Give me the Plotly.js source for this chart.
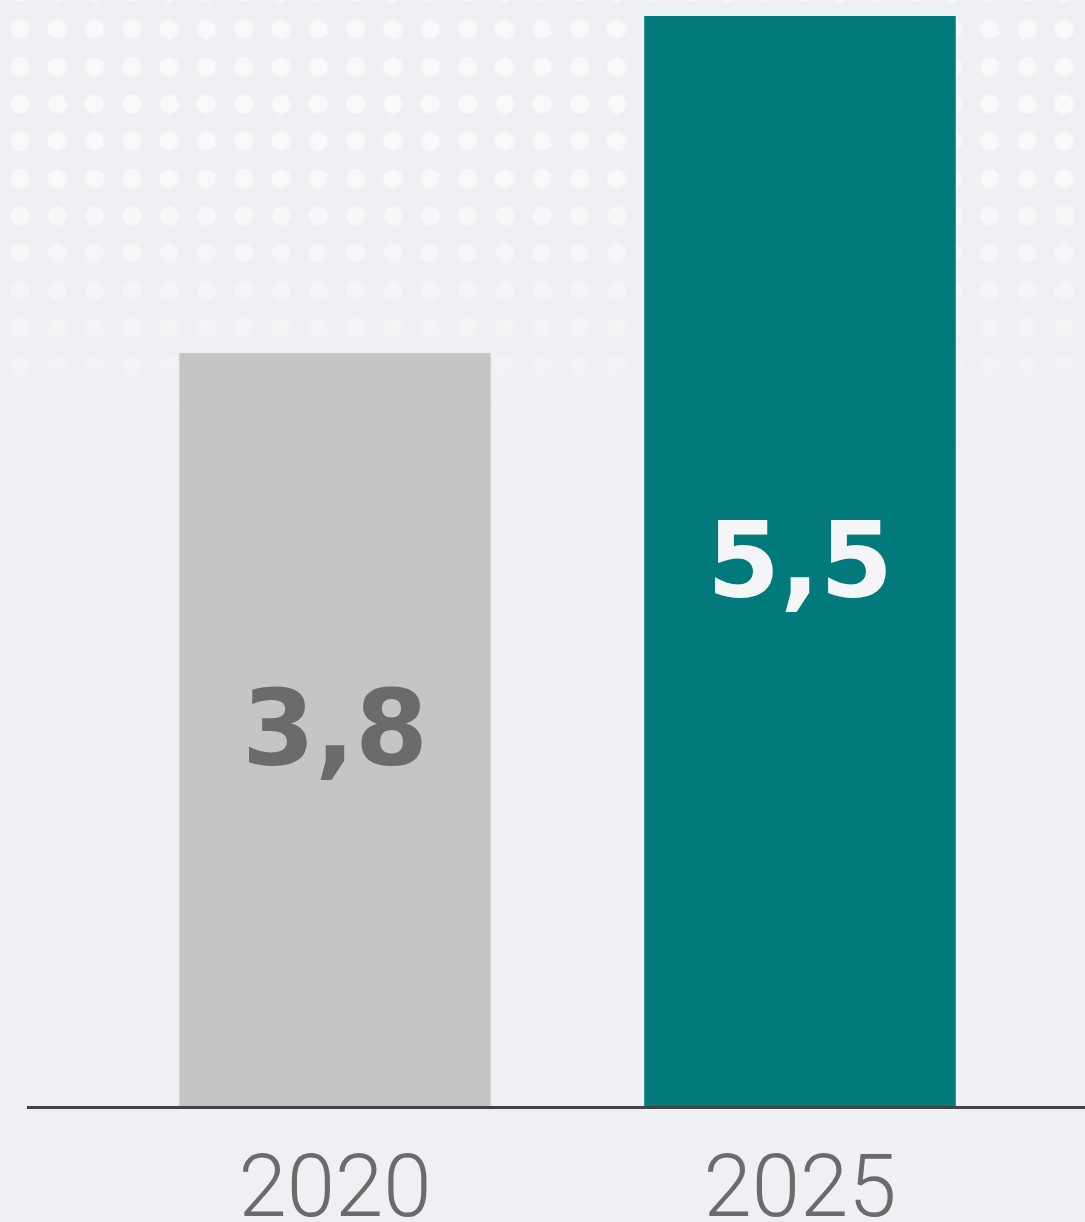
<!DOCTYPE html>
<html>
<head>
<meta charset="utf-8">
<script src="https://cdn.plot.ly/plotly-3.0.1.min.js"></script>
<style>
  html, body { margin: 0; padding: 0; background: #eff0f3; }
  #wrap {
    width: 1085px; height: 1222px; position: relative; overflow: hidden;
    background-color: #eff0f3;
    background-image:
      linear-gradient(to bottom, rgba(239,240,243,0) 0px, rgba(239,240,243,0) 170px, rgba(239,240,243,1) 445px),
      radial-gradient(circle at center, #f9f9fa 0px, #f9f9fa 8.5px, rgba(249,249,250,0) 10.5px);
    background-size: 100% 100%, 37.3px 37.3px;
    background-position: 0 0, 1.35px 10.85px;
    background-repeat: no-repeat, repeat;
  }
  #chart { width: 1085px; height: 1222px; }
</style>
</head>
<body>
<div id="wrap"><div id="chart"></div></div>
<script>
  // Data
  const years = ['2020', '2025'];
  const values = [3.8, 5.5];
  const valueLabels = ['3,8', '5,5'];
  const barColors = ['#c5c6c3', '#027a7b'];
  const labelColors = ['#6a6b6a', '#f4f5f7'];

  const trace = {
    type: 'bar',
    x: years,
    y: values,
    text: valueLabels,
    texttemplate: '%{text}',
    textposition: 'inside',
    insidetextanchor: 'middle',
    constraintext: 'none',
    textangle: 0,
    width: 0.67,
    marker: { color: barColors, line: { width: 0 } },
    insidetextfont: {
      family: 'DejaVu Sans, sans-serif',
      weight: 700,
      size: 105,
      color: labelColors
    },
    hoverinfo: 'skip'
  };

  const layout = {
    width: 1085,
    height: 1222,
    margin: { l: 27, r: 0, t: 16, b: 116, pad: 0 },
    paper_bgcolor: 'rgba(0,0,0,0)',
    plot_bgcolor: 'rgba(0,0,0,0)',
    showlegend: false,
    xaxis: {
      type: 'category',
      range: [-0.6624, 1.6129],
      showline: true,
      linecolor: '#414443',
      linewidth: 3,
      showgrid: false,
      zeroline: false,
      ticks: '',
      ticklabelstandoff: 3,
      tickfont: { family: 'Roboto, sans-serif', weight: 300, size: 87, color: '#6b6b6b' },
      fixedrange: true
    },
    yaxis: {
      range: [0, 5.5],
      visible: false,
      showgrid: false,
      zeroline: false,
      fixedrange: true
    }
  };

  Plotly.newPlot('chart', [trace], layout, { displayModeBar: false, staticPlot: true });
</script>
</body>
</html>
